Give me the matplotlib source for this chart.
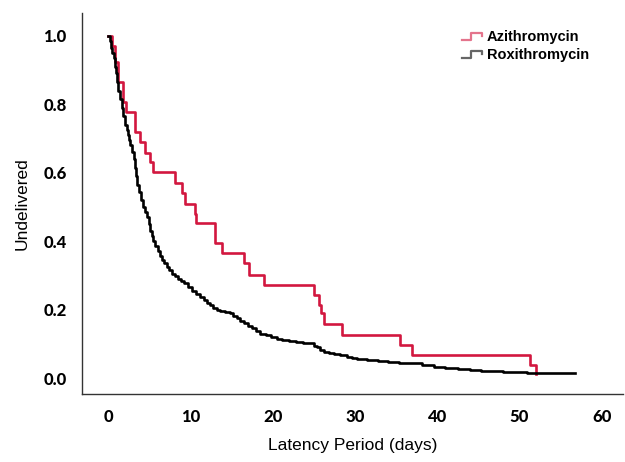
import numpy as np
import matplotlib
matplotlib.use("Agg")
import matplotlib.pyplot as plt
from matplotlib.lines import Line2D
from matplotlib.legend_handler import HandlerBase

# %% Data (time in days, proportion undelivered)

azi_days = [0, 0.5, 0.77, 1.25, 1.79, 2.2, 3.2, 3.9, 4.5, 5.1, 5.5, 8.15, 8.97,
            9.3, 10.5, 10.7, 13.0, 13.8, 16.5, 17.1, 18.9, 25.0, 25.6, 25.9,
            26.2, 28.4, 35.5, 36.9, 51.3, 52.0]
azi_surv = [1.0, 0.97, 0.925, 0.866, 0.807, 0.778, 0.72, 0.69, 0.658, 0.632,
            0.603, 0.569, 0.54, 0.51, 0.48, 0.452, 0.394, 0.365, 0.335, 0.30,
            0.272, 0.243, 0.213, 0.19, 0.157, 0.126, 0.096, 0.067, 0.038, 0.012]

roxi_days = [0, 0.2, 0.35, 0.5, 0.65, 0.8, 0.95, 1.1, 1.25, 1.45, 1.65, 1.85,
             2.07, 2.25, 2.4, 2.55, 2.67, 2.9, 3.08, 3.25, 3.4, 3.55, 3.7,
             3.95, 4.2, 4.45, 4.7, 4.9, 5.1, 5.3, 5.5, 5.75, 6.0, 6.25, 6.5,
             6.8, 7.1, 7.4, 7.75, 8.1, 8.5, 8.85, 9.2, 9.7, 10.2, 10.7, 11.2,
             11.6, 12.0, 12.4, 12.8, 13.2, 13.6, 14.2, 14.8, 15.2, 15.6, 16.0,
             16.5, 17.0, 17.5, 18.0, 18.5, 19.2, 19.8, 20.5, 21.1, 22.0, 22.8,
             23.7, 24.6, 25.0, 25.4, 25.8, 26.2, 26.8, 27.5, 28.2, 29.0, 29.6,
             30.3, 31.5, 32.8, 34.0, 35.3, 36.7, 38.2, 39.6, 41.0, 42.5, 44.0,
             45.3, 48.0, 50.9, 56.8]
roxi_surv = [1.0, 0.985, 0.965, 0.95, 0.935, 0.91, 0.89, 0.865, 0.84, 0.815,
             0.79, 0.765, 0.74, 0.725, 0.71, 0.695, 0.68, 0.66, 0.64, 0.615,
             0.59, 0.565, 0.545, 0.52, 0.50, 0.485, 0.47, 0.45, 0.43, 0.415,
             0.40, 0.385, 0.37, 0.357, 0.345, 0.335, 0.325, 0.315, 0.305,
             0.297, 0.29, 0.283, 0.277, 0.266, 0.255, 0.246, 0.238, 0.229,
             0.22, 0.212, 0.204, 0.2, 0.196, 0.192, 0.189, 0.182, 0.175, 0.168,
             0.16, 0.152, 0.145, 0.138, 0.13, 0.125, 0.12, 0.115, 0.111, 0.108,
             0.105, 0.103, 0.101, 0.095, 0.09, 0.083, 0.077, 0.073, 0.07,
             0.066, 0.062, 0.059, 0.057, 0.053, 0.05, 0.048, 0.045, 0.043,
             0.038, 0.033, 0.03, 0.027, 0.024, 0.021, 0.017, 0.014, 0.014]

x_ticks = [0, 10, 20, 30, 40, 50, 60]
y_ticks = [0.0, 0.2, 0.4, 0.6, 0.8, 1.0]

red = "#d2173f"
black = "#000000"


# %% Small step-shaped legend glyphs, like SPSS draws them

class StepHandler(HandlerBase):
    def create_artists(self, legend, orig_handle, xdescent, ydescent,
                       width, height, fontsize, trans):
        xs = np.array([0.0, 0.45, 0.45, 1.0, 1.0]) * width - xdescent
        ys = np.array([0.15, 0.15, 0.8, 0.8, 0.5]) * height - ydescent
        glyph = Line2D(xs, ys, color=orig_handle.get_color(), lw=1.6,
                       alpha=0.6, transform=trans)
        return [glyph]


# %% Plot

fig = plt.figure(figsize=(6.25, 4.62), dpi=100)
ax = fig.add_axes([0.131, 0.147, 0.866, 0.825])

azi_line, = ax.plot(azi_days, azi_surv, drawstyle="steps-post", color=red,
                    lw=1.9, label="Azithromycin")
roxi_line, = ax.plot(roxi_days, roxi_surv, drawstyle="steps-post",
                     color=black, lw=1.9, label="Roxithromycin")

ax.set_xlim(-3.2, 62.6)
ax.set_ylim(-0.047, 1.067)
ax.set_xticks(x_ticks)
ax.set_yticks(y_ticks)
ax.set_xticklabels([str(v) for v in x_ticks])
ax.set_yticklabels([f"{v:.1f}" for v in y_ticks])

tick_font = dict(family=["Lato", "DejaVu Sans"], weight="black", size=12)
for lab in ax.get_xticklabels() + ax.get_yticklabels():
    lab.set(**tick_font)
ax.tick_params(axis="both", length=0)
ax.tick_params(axis="x", pad=11)
ax.tick_params(axis="y", pad=11)

for side in ["top", "right"]:
    ax.spines[side].set_visible(False)
for side in ["left", "bottom"]:
    ax.spines[side].set_linewidth(1.0)
    ax.spines[side].set_color("#333333")

label_font = dict(family=["Liberation Sans", "DejaVu Sans"], size=12.5)
ax.set_xlabel("Latency Period (days)", labelpad=9, **label_font)
ax.set_ylabel("Undelivered", labelpad=10, **label_font)

ax.legend(handles=[azi_line, roxi_line],
          handler_map={Line2D: StepHandler()},
          loc="upper left", bbox_to_anchor=(0.702, 0.955),
          frameon=False, borderpad=0, borderaxespad=0,
          handlelength=1.35, handletextpad=0.35, labelspacing=0.3,
          prop=dict(family=["Liberation Sans", "DejaVu Sans"],
                    weight="bold", size=10.5))

fig.savefig("out.png", dpi=100)
